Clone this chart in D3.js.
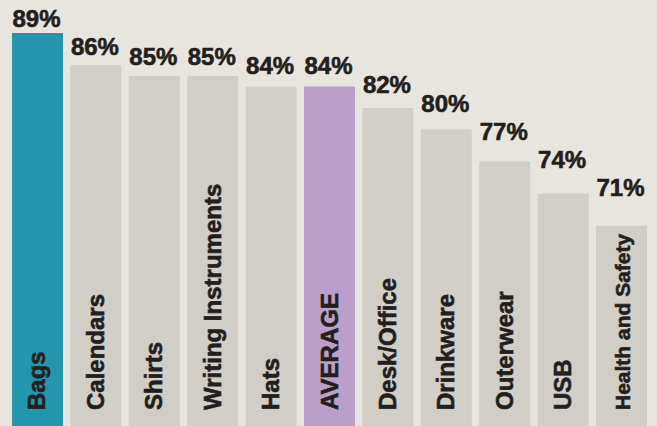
<!DOCTYPE html>
<html>
<head>
<meta charset="utf-8">
<script src="https://cdn.jsdelivr.net/npm/d3@7"></script>
<style>
  html, body { margin: 0; padding: 0; background: #e8e5df; }
  svg { display: block; }
  text { font-family: "Liberation Sans", Arial, sans-serif; font-weight: bold; fill: #231f20;
         stroke: #231f20; stroke-width: 0.6px; }
</style>
</head>
<body>
<div id="chart"></div>
<script>
// chart values
const categories = ['Bags', 'Calendars', 'Shirts', 'Writing Instruments', 'Hats', 'AVERAGE',
  'Desk/Office', 'Drinkware', 'Outerwear', 'USB', 'Health and Safety'];
const values = [89, 86, 85, 85, 84, 84, 82, 80, 77, 74, 71];
const valueLabels = ['89%', '86%', '85%', '85%', '84%', '84%', '82%', '80%', '77%', '74%', '71%'];
const highlight = { 'Bags': '#2396ad', 'AVERAGE': '#b99fc9' };

const width = 657, height = 426;

const svg = d3.select('#chart')
  .append('svg')
  .attr('width', width)
  .attr('height', height);

svg.append('rect')
  .attr('width', width)
  .attr('height', height)
  .attr('fill', '#e8e5df');

const x = d3.scaleBand()
  .domain(categories)
  .range([12, 647])
  .paddingInner(0.127)
  .paddingOuter(0);

// bars run off the bottom edge
const y = d3.scaleLinear()
  .domain([52.3, 89])
  .range([height, 33]);

// value labels step down a little slower than the bars
const yLabel = d3.scaleLinear()
  .domain([71, 89])
  .range([196, 27]);

const rows = categories.map((c, i) => ({ cat: c, v: values[i], label: valueLabels[i] }));

svg.append('g')
  .selectAll('rect')
  .data(rows)
  .join('rect')
  .attr('x', d => x(d.cat))
  .attr('y', d => y(d.v))
  .attr('width', x.bandwidth())
  .attr('height', d => height - y(d.v))
  .attr('fill', d => highlight[d.cat] || '#d1cdc7');

svg.append('g')
  .selectAll('text')
  .data(rows)
  .join('text')
  .attr('x', d => x(d.cat) + 0.5)
  .attr('y', d => yLabel(d.v))
  .attr('font-size', 24)
  .text(d => d.label);

svg.append('g')
  .selectAll('text')
  .data(rows)
  .join('text')
  .attr('transform', d => `translate(${x(d.cat) + x.bandwidth() / 2 + 8},${height - 16}) rotate(-90)`)
  .attr('font-size', d => d.cat === 'Health and Safety' ? 21 : 24)
  .text(d => d.cat);
</script>
</body>
</html>
